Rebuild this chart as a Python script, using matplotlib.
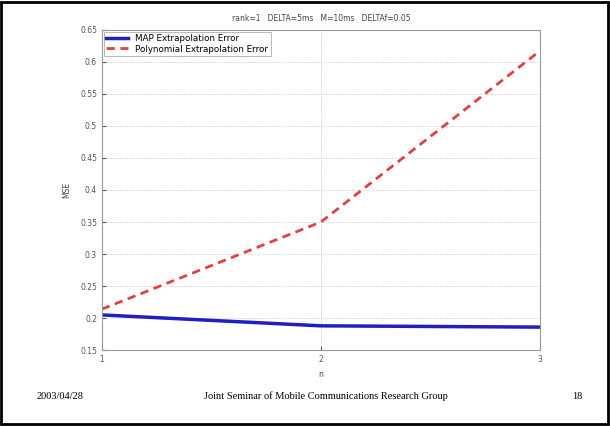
import matplotlib
matplotlib.use("Agg")
import matplotlib.pyplot as plt
from matplotlib.patches import Rectangle

# error curves
n = [1, 2, 3]
map_err = [0.205, 0.188, 0.186]
poly_err = [0.214, 0.350, 0.617]

y_ticks = [0.15, 0.2, 0.25, 0.3, 0.35, 0.4, 0.45, 0.5, 0.55, 0.6, 0.65]
y_labels = ["0.15", "0.2", "0.25", "0.3", "0.35", "0.4", "0.45", "0.5", "0.55", "0.6", "0.65"]

fig = plt.figure(figsize=(6.1, 4.26), dpi=100)
ax = fig.add_axes([0.167, 0.178, 0.718, 0.752])

ax.plot(n, map_err, color="#2020c0", lw=2.5, label="MAP Extrapolation Error")
ax.plot(n, poly_err, color="#e04040", lw=2, ls=(0, (3, 2)), label="Polynomial Extrapolation Error")

ax.set_xlim(1, 3)
ax.set_ylim(0.15, 0.65)
ax.set_xticks(n)
ax.set_yticks(y_ticks)
ax.set_yticklabels(y_labels)
ax.tick_params(labelsize=5.5, colors="#555555", length=3, direction="in")
ax.grid(True, ls=":", color="#bbbbbb", lw=0.6)
for s in ax.spines.values():
    s.set_color("#999999")
    s.set_linewidth(0.8)

ax.set_title("rank=1   DELTA=5ms   M=10ms   DELTAf=0.05", fontsize=5.5, color="#444444", pad=6)
ax.set_xlabel("n", fontsize=5.5, color="#444444", labelpad=4)
ax.set_ylabel("MSE", fontsize=5.5, color="#444444", labelpad=6)

leg = ax.legend(loc="upper left", fontsize=6.3, frameon=True, fancybox=False,
                borderaxespad=0.2, handlelength=2.5, labelspacing=0.15,
                borderpad=0.3)
leg.get_frame().set_edgecolor("#999999")
leg.get_frame().set_linewidth(0.6)

# slide footer
serif = "Liberation Serif"
fig.text(0.098, 0.07, "2003/04/28", fontsize=7.5, family=serif, ha="center", va="center")
fig.text(0.535, 0.07, "Joint Seminar of Mobile Communications Research Group", fontsize=7.5,
         family=serif, ha="center", va="center")
fig.text(0.946, 0.07, "18", fontsize=7.5, family=serif, ha="center", va="center")

fig.patches.append(Rectangle((0.002, 0.004), 0.994, 0.992, transform=fig.transFigure,
                             fill=False, edgecolor="black", lw=2))

fig.savefig("out.png", dpi=100)
